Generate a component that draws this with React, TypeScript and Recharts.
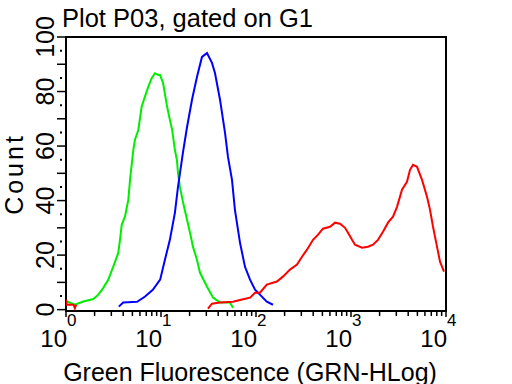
import React from 'react';
import { LineChart, Line, XAxis, YAxis, ReferenceArea } from 'recharts';

const xTicks = [
  1, 2, 3, 4, 5, 6, 7, 8, 9,
  10, 20, 30, 40, 50, 60, 70, 80, 90,
  100, 200, 300, 400, 500, 600, 700, 800, 900,
  1000, 2000, 3000, 4000, 5000, 6000, 7000, 8000, 9000,
  10000,
];
const xMajorTicks = [1, 10, 100, 1000, 10000];
const xTickExponents = ['0', '1', '2', '3', '4'];
const yTicks = [0, 5, 10, 15, 20, 25, 30, 35, 40, 45, 50, 55, 60, 65, 70, 75, 80, 85, 90, 95, 100];
const yLabelTicks = [0, 20, 40, 60, 80, 100];

const greenX = [1.02, 1.24, 1.52, 1.94, 2.19, 2.47, 2.79, 3.15, 3.55, 3.7, 3.86, 4.18, 4.53, 4.72, 5.11, 5.32, 5.77, 6.26, 6.79, 7.35, 7.98, 8.65, 9.37, 9.76, 10.5, 11.6, 12.4, 13.1, 14.0, 14.7, 15.1, 15.8, 17.1, 18.8, 20.2, 21.7, 23.9, 25.7, 30.5, 35.3, 41.8, 53.2, 57.3];
const greenY = [3.0, 1.8, 3.0, 3.9, 5.5, 8.0, 11.0, 15.9, 20.8, 25.6, 31.1, 34.2, 40.3, 47.6, 58.6, 62.3, 65.9, 74.5, 78.2, 81.8, 84.9, 86.7, 86.1, 86.1, 83.2, 74.4, 69.6, 65.9, 58.6, 54.9, 50.2, 45.1, 39.2, 33.0, 28.2, 23.1, 18.3, 13.6, 8.4, 4.4, 2.6, 2.6, 0.7];

const blueX = [3.6, 4.0, 5.6, 6.8, 8.2, 9.8, 11.0, 12.4, 14.0, 15.1, 17.0, 18.8, 21.2, 23.9, 27.0, 30.5, 34.4, 37.0, 41.8, 47.2, 50.7, 55.9, 60.0, 67.9, 76.6, 86.5, 97.7, 110, 130, 151];
const blueY = [1.1, 2.6, 2.9, 4.8, 7.3, 11.0, 18.3, 25.6, 35.5, 45.0, 57.5, 67.0, 77.0, 85.3, 92.7, 94.1, 90.5, 86.8, 77.0, 64.8, 56.0, 47.6, 36.6, 24.5, 15.7, 11.0, 7.3, 5.5, 2.9, 1.8];

const redX = [1.0, 1.02, 1.2, 1.24, 1.28, 1.3, 31.2, 34.4, 41.8, 57.3, 71.2, 86.5, 97.7, 110, 130, 166, 192, 228, 270, 305, 344, 398, 450, 507, 601, 679, 766, 865, 930, 1025, 1102, 1306, 1510, 1705, 1923, 2172, 2451, 2767, 3050, 3443, 3884, 4180, 4497, 4955, 5590, 6310, 6790, 7300, 8040, 8650, 9530];
const redY: (number | null)[] = [3.7, 1.8, 1.8, 0.5, 1.8, null, 0.4, 2.2, 2.6, 2.9, 3.7, 4.4, 6.2, 6.2, 9.2, 10.3, 12.1, 14.7, 16.5, 19.4, 22.0, 25.6, 27.5, 29.7, 30.4, 31.9, 31.5, 30.0, 28.2, 25.6, 23.8, 22.7, 23.1, 23.8, 25.6, 28.6, 31.9, 34.1, 37.7, 44.0, 46.9, 51.3, 53.1, 52.4, 47.6, 41.4, 36.6, 30.4, 23.1, 17.6, 13.9];

const greenData = greenX.map((x, i) => ({ x, y: greenY[i] }));
const blueData = blueX.map((x, i) => ({ x, y: blueY[i] }));
const redData = redX.map((x, i) => ({ x, y: redY[i] }));

const FONT = "'Liberation Sans', Arial, sans-serif";

const XTick = (props: any) => {
  const { x, y, payload } = props;
  const v = payload.value;
  const idx = xMajorTicks.indexOf(v);
  const major = idx >= 0;
  return (
    <g>
      <line x1={x} x2={x} y1={y} y2={y + (major ? 6 : 5)} stroke="#000" strokeWidth={1.5} />
      {major && (
        <g>
          <text x={x + 1} y={y + 36} textAnchor="end" fontSize={24} fill="#000" fontFamily={FONT}>10</text>
          <text x={x + 1} y={y + 15} textAnchor="start" fontSize={17} fill="#000" fontFamily={FONT}>{xTickExponents[idx]}</text>
        </g>
      )}
    </g>
  );
};

const YTick = (props: any) => {
  const { x, y, payload } = props;
  const v = payload.value;
  const ten = v % 10 === 0;
  const labeled = yLabelTicks.indexOf(v) >= 0;
  return (
    <g>
      {ten ? (
        <line x1={x - 9} x2={x} y1={y} y2={y} stroke="#000" strokeWidth={1.5} />
      ) : (
        <line x1={x - 6} x2={x - 4} y1={y} y2={y} stroke="#000" strokeWidth={2} />
      )}
      {labeled && (
        <text
          x={x - 12}
          y={y}
          transform={`rotate(-90 ${x - 12} ${y})`}
          textAnchor="middle"
          fontSize={25}
          fill="#000"
          fontFamily={FONT}
        >
          {String(v)}
        </text>
      )}
    </g>
  );
};

export default function App() {
  return (
    <div style={{ position: 'absolute', left: 0, top: 0, width: 512, height: 384, background: '#fff' }}>
      <LineChart width={512} height={384} margin={{ top: 37, right: 66, left: 0, bottom: 0 }}>
        <XAxis
          dataKey="x"
          type="number"
          scale="log"
          domain={[1, 10000]}
          allowDataOverflow
          ticks={xTicks}
          interval={0}
          tick={<XTick />}
          tickLine={false}
          tickSize={0}
          tickMargin={0}
          axisLine={false}
          height={73}
        />
        <YAxis
          type="number"
          domain={[-0.5, 100]}
          allowDataOverflow
          ticks={yTicks}
          interval={0}
          tick={<YTick />}
          tickLine={false}
          tickSize={0}
          tickMargin={0}
          axisLine={false}
          width={66}
        />
        <ReferenceArea x1={1} x2={10000} y1={-0.5} y2={100} fill="none" stroke="#000" strokeWidth={2} ifOverflow="visible" />
        <Line data={greenData} dataKey="y" type="linear" stroke="#00ee00" strokeWidth={2} dot={false} isAnimationActive={false} />
        <Line data={blueData} dataKey="y" type="linear" stroke="#0000ff" strokeWidth={2} dot={false} isAnimationActive={false} />
        <Line data={redData} dataKey="y" type="linear" stroke="#ff0000" strokeWidth={2} dot={false} connectNulls={false} isAnimationActive={false} />
      </LineChart>
      <svg width={512} height={384} style={{ position: 'absolute', left: 0, top: 0, pointerEvents: 'none' }}>
        <text x={62} y={27} fontSize={25.5} fill="#000" fontFamily={FONT}>Plot P03, gated on G1</text>
        <text
          x={23}
          y={174}
          transform="rotate(-90 23 174)"
          textAnchor="middle"
          fontSize={25}
          letterSpacing={3}
          fill="#000"
          fontFamily={FONT}
        >
          Count
        </text>
        <text x={250} y={381} textAnchor="middle" fontSize={25} fill="#000" fontFamily={FONT}>Green Fluorescence (GRN-HLog)</text>
      </svg>
    </div>
  );
}
